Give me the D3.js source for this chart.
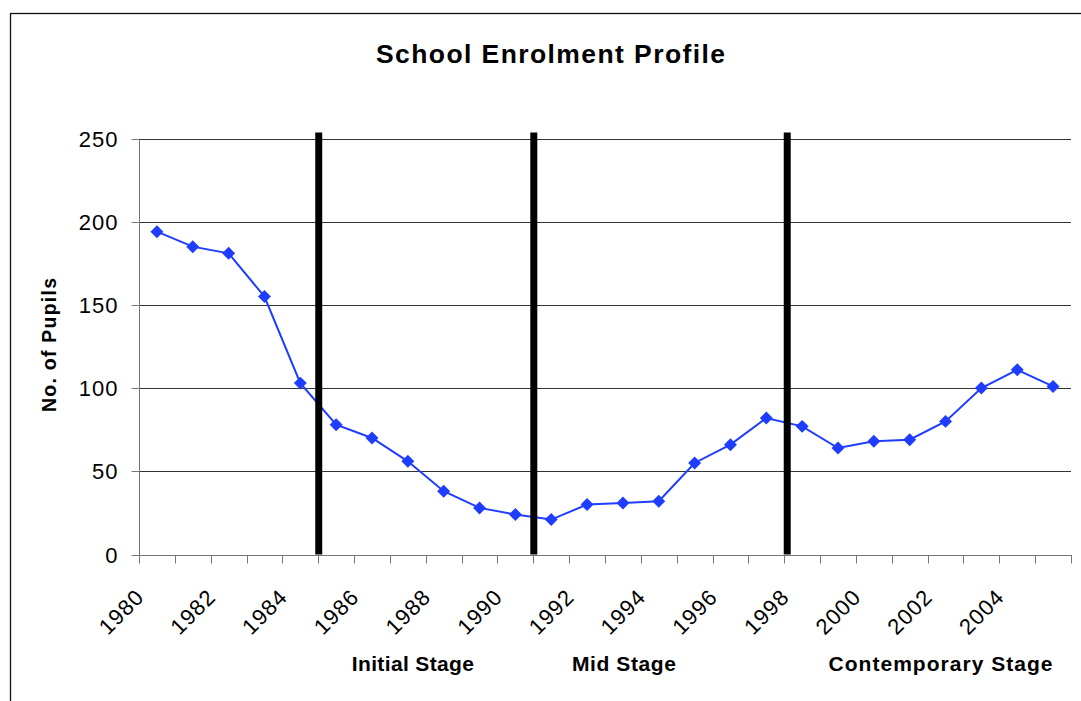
<!DOCTYPE html>
<html>
<head>
<meta charset="utf-8">
<script src="https://cdn.jsdelivr.net/npm/d3@7"></script>
<style>
  html, body { margin: 0; padding: 0; background: #fff; }
  svg { display: block; font-family: "Liberation Sans", Arial, sans-serif; }
</style>
</head>
<body>
<svg id="chart" width="1081" height="701"></svg>
<script>
const years = ["1980","1981","1982","1983","1984","1985","1986","1987","1988","1989",
  "1990","1991","1992","1993","1994","1995","1996","1997","1998","1999",
  "2000","2001","2002","2003","2004","2005"];
const pupils = [194,185,181,155,103,78,70,56,38,28,24,21,30,31,32,55,66,82,77,64,68,69,80,100,111,101];
const xTickLabels = ["1980","1982","1984","1986","1988","1990","1992","1994","1996","1998","2000","2002","2004"];
const yTicks = [0,50,100,150,200,250];
const dividerYears = ["1985","1991","1998"];
const stageNames = ["Initial Stage","Mid Stage","Contemporary Stage"];
const stageCentreYears = ["1987","1993","2002"];
const chartTitle = "School Enrolment Profile";
const yTitle = "No. of Pupils";

(function(){
const svg = d3.select("#chart");
const pLeft = 139, pRight = 1071, pTop = 138.5, pBottom = 554.5;
const blue = "#1f3dff";
const FONT = "'Liberation Sans', Arial, sans-serif";

// outer border
svg.append("rect").attr("x",10.5).attr("y",13.5).attr("width",1100).attr("height",720)
  .attr("fill","none").attr("stroke","#111").attr("stroke-width",1.3);

const x = d3.scaleBand().domain(years).range([pLeft,pRight]).paddingInner(0).paddingOuter(0);
const y = d3.scaleLinear().domain([0,250]).range([pBottom,pTop]);

// gridlines
svg.append("g").selectAll("line").data(yTicks.filter(d=>d>0)).join("line")
  .attr("x1",pLeft).attr("x2",pRight)
  .attr("y1",d=>Math.round(y(d))+0.5).attr("y2",d=>Math.round(y(d))+0.5)
  .attr("stroke","#333").attr("stroke-width",1);

// y axis
const yAxis = svg.append("g").attr("transform",`translate(${pLeft+0.5},0)`)
  .call(d3.axisLeft(y).tickValues(yTicks).tickSize(8).tickPadding(13).tickFormat(d3.format("d")));
yAxis.attr("font-family",FONT);
yAxis.select(".domain").attr("stroke","#777").attr("d",`M0,${pTop}V${pBottom+0.5}`);
yAxis.selectAll(".tick line").attr("stroke","#777");
yAxis.selectAll(".tick").attr("transform",d=>`translate(0,${Math.round(y(d))+0.5})`);
yAxis.selectAll("text").attr("font-size",22).attr("fill","#000").attr("letter-spacing","1px");

// x axis: ticks at category boundaries
const boundaries = years.map(d=>x(d)).concat([pRight]);
const xg = svg.append("g").attr("font-family",FONT);
xg.append("line").attr("x1",pLeft).attr("x2",pRight).attr("y1",Math.round(pBottom)+0.5).attr("y2",Math.round(pBottom)+0.5)
  .attr("stroke","#777");
xg.selectAll("line.tk").data(boundaries).join("line").attr("class","tk")
  .attr("x1",d=>Math.round(d)+0.5).attr("x2",d=>Math.round(d)+0.5)
  .attr("y1",Math.round(pBottom)).attr("y2",Math.round(pBottom)+8.5)
  .attr("stroke","#777");
xg.selectAll("text").data(xTickLabels).join("text")
  .attr("transform",d=>`translate(${x(d)+x.bandwidth()/2-17},${593}) rotate(-45)`)
  .attr("text-anchor","end").attr("dy","0.35em")
  .attr("font-size",22).attr("letter-spacing","1px").attr("fill","#000")
  .text(d=>d);

// line + markers
const line = d3.line().x((d,i)=>x(years[i])+x.bandwidth()/2).y(d=>y(d));
svg.append("path").datum(pupils).attr("d",line).attr("fill","none")
  .attr("stroke",blue).attr("stroke-width",2);
svg.append("g").selectAll("path").data(pupils).join("path")
  .attr("d",d3.symbol(d3.symbolSquare,84)())
  .attr("transform",(d,i)=>`translate(${x(years[i])+x.bandwidth()/2},${y(d)}) rotate(45)`)
  .attr("fill",blue);

// stage dividers
const dividerNudge = [0.5, 0.5, 3];
svg.append("g").selectAll("line").data(dividerYears).join("line")
  .attr("x1",(d,i)=>x(d)+dividerNudge[i]).attr("x2",(d,i)=>x(d)+dividerNudge[i])
  .attr("y1",y(250)-6).attr("y2",pBottom)
  .attr("stroke","#000").attr("stroke-width",7);

// stage labels
const stageWidths = [122, 104, 224];
const stageNudge = [5, 1, -5];
svg.append("g").selectAll("text").data(stageNames).join("text")
  .attr("x",(d,i)=>x(stageCentreYears[i])+x.bandwidth()/2+stageNudge[i])
  .attr("y",671).attr("text-anchor","middle")
  .attr("font-size",21).attr("font-weight","bold").attr("fill","#000")
  .attr("textLength",(d,i)=>stageWidths[i]).attr("lengthAdjust","spacing")
  .text(d=>d);

// title
svg.append("text").attr("x",550.5).attr("y",63).attr("text-anchor","middle")
  .attr("font-size",26.5).attr("font-weight","bold")
  .attr("textLength",349).attr("lengthAdjust","spacing").text(chartTitle);

// y title
svg.append("text").attr("transform","translate(56,345) rotate(-90)").attr("text-anchor","middle")
  .attr("font-size",19.5).attr("font-weight","bold")
  .attr("textLength",134).attr("lengthAdjust","spacing").text(yTitle);
})();
</script>
</body>
</html>
